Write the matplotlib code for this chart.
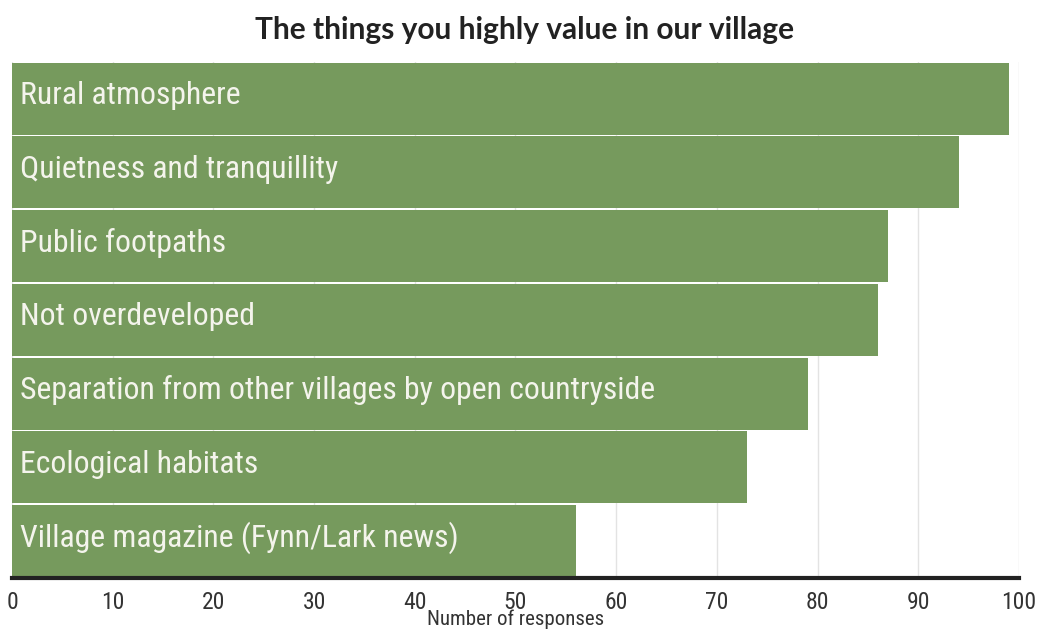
import matplotlib.pyplot as plt

# Survey answers, top to bottom
things = [
    "Rural atmosphere",
    "Quietness and tranquillity",
    "Public footpaths",
    "Not overdeveloped",
    "Separation from other villages by open countryside",
    "Ecological habitats",
    "Village magazine (Fynn/Lark news)",
]
responses = [99, 94, 87, 86, 79, 73, 56]
ticks = list(range(0, 101, 10))

narrow = ["Roboto Condensed", "DejaVu Sans"]

fig = plt.figure(figsize=(10.39, 6.3), dpi=100)
ax = fig.add_axes([0.01155, 0.0825, 0.9692, 0.8195])

pos = list(range(len(things)))[::-1]
ax.barh(pos, responses, height=0.975, color="#769a5d", zorder=2)
for y, name in zip(pos, things):
    ax.text(0.8, y - 0.075, name, va="baseline", ha="left", color="#f4f4ec",
            fontsize=22.9, fontweight="normal", family=narrow, zorder=3)

ax.set_xlim(0, 100)
ax.set_ylim(-0.5, 6.5)
ax.set_xticks(ticks)
ax.set_xticklabels([str(t) for t in ticks], family=narrow, fontsize=17,
                   color="#333333")
ax.set_yticks([])
ax.tick_params(axis="x", length=0, pad=9)
ax.grid(axis="x", color="#e3e3e3", linewidth=1, zorder=0)
for s in ["top", "right", "left"]:
    ax.spines[s].set_visible(False)
ax.spines["bottom"].set_linewidth(3)
ax.spines["bottom"].set_color("#222222")
ax.spines["bottom"].set_zorder(4)

ax.set_xlabel("Number of responses", family=narrow, fontsize=15,
              color="#333333", labelpad=-3)

fig.text(0.505, 0.952, "The things you highly value in our village",
         ha="center", va="center", fontsize=21.5, fontweight="bold",
         family="Lato", color="#222222")

fig.savefig("out.png", dpi=100)
